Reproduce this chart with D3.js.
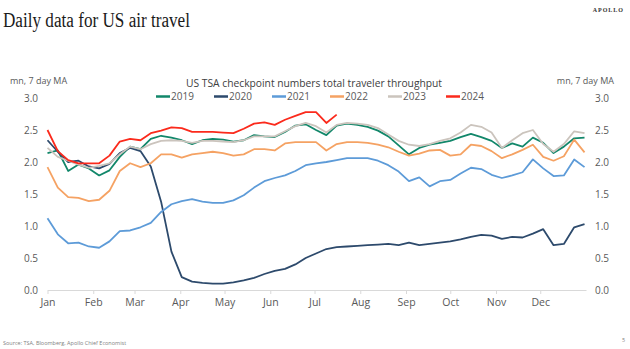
<!DOCTYPE html>
<html>
<head>
<meta charset="utf-8">
<script src="https://cdn.jsdelivr.net/npm/d3@7"></script>
<style>
  body { margin: 0; background: #fff; }
  text { font-family: "Open Sans", "Noto Sans", sans-serif; }
</style>
</head>
<body>
<div id="chart"></div>
<script>
// Day of year for every reading (one per week)
const days = d3.range(0, 365, 7);

// TSA throughput, mn travellers, 7 day MA
const tsa2019 = [2.14, 2.18, 1.86, 1.96, 1.90, 1.79, 1.87, 2.08, 2.24, 2.20, 2.36, 2.41, 2.38, 2.34,
  2.28, 2.34, 2.36, 2.35, 2.32, 2.34, 2.42, 2.40, 2.39, 2.47, 2.57, 2.59, 2.50, 2.42, 2.57, 2.60,
  2.58, 2.55, 2.49, 2.40, 2.26, 2.12, 2.22, 2.27, 2.30, 2.33, 2.39, 2.44, 2.39, 2.33, 2.22, 2.29,
  2.24, 2.38, 2.30, 2.14, 2.24, 2.37, 2.38];
const tsa2020 = [2.34, 2.16, 2.00, 2.02, 1.93, 1.90, 1.97, 2.14, 2.22, 2.17, 1.93, 1.38, 0.60, 0.20,
  0.13, 0.11, 0.10, 0.10, 0.12, 0.15, 0.19, 0.25, 0.30, 0.33, 0.40, 0.50, 0.57, 0.64, 0.67, 0.68,
  0.69, 0.70, 0.71, 0.72, 0.70, 0.74, 0.70, 0.72, 0.74, 0.76, 0.79, 0.83, 0.86, 0.85, 0.80, 0.83,
  0.82, 0.88, 0.95, 0.70, 0.72, 0.98, 1.03];
const tsa2021 = [1.12, 0.87, 0.73, 0.74, 0.68, 0.66, 0.76, 0.92, 0.93, 0.98, 1.05, 1.22, 1.34, 1.39,
  1.42, 1.38, 1.36, 1.36, 1.40, 1.48, 1.60, 1.70, 1.75, 1.79, 1.86, 1.95, 1.98, 2.00, 2.03, 2.06,
  2.06, 2.06, 2.02, 1.95, 1.85, 1.70, 1.76, 1.62, 1.70, 1.72, 1.82, 1.91, 1.89, 1.80, 1.75, 1.79,
  1.84, 2.04, 1.90, 1.78, 1.79, 2.04, 1.92];
const tsa2022 = [1.92, 1.60, 1.45, 1.44, 1.39, 1.41, 1.55, 1.86, 1.98, 1.92, 1.98, 2.12, 2.12, 2.07,
  2.12, 2.14, 2.16, 2.14, 2.10, 2.12, 2.20, 2.20, 2.18, 2.29, 2.31, 2.31, 2.31, 2.18, 2.28, 2.31,
  2.31, 2.30, 2.27, 2.23, 2.16, 2.10, 2.13, 2.18, 2.19, 2.10, 2.12, 2.27, 2.25, 2.17, 2.06, 2.12,
  2.19, 2.27, 2.08, 2.02, 2.09, 2.35, 2.15];
const tsa2023 = [2.22, 2.08, 2.02, 1.96, 1.91, 1.94, 1.98, 2.12, 2.24, 2.20, 2.28, 2.33, 2.34, 2.33,
  2.30, 2.33, 2.33, 2.32, 2.31, 2.34, 2.40, 2.40, 2.40, 2.48, 2.56, 2.61, 2.56, 2.46, 2.58, 2.61,
  2.60, 2.58, 2.53, 2.43, 2.33, 2.27, 2.25, 2.28, 2.33, 2.37, 2.46, 2.58, 2.55, 2.46, 2.22, 2.34,
  2.45, 2.50, 2.28, 2.16, 2.28, 2.48, 2.45];
const tsa2024 = [2.50, 2.17, 2.03, 1.98, 1.98, 1.98, 2.10, 2.32, 2.36, 2.34, 2.45, 2.49, 2.54, 2.53,
  2.47, 2.47, 2.47, 2.46, 2.45, 2.52, 2.60, 2.62, 2.58, 2.66, 2.72, 2.78, 2.78, 2.61, 2.74];

const years = ["2019", "2020", "2021", "2022", "2023", "2024"];
const seriesValues = [tsa2019, tsa2020, tsa2021, tsa2022, tsa2023, tsa2024];
const yearColors = ["#12876a", "#2d4a6c", "#5d9bd8", "#f5a263", "#cbc4bd", "#fb2a1c"];

// Month starts and labels for the x axis
const monthDays = [0, 31, 59, 90, 120, 151, 181, 212, 243, 273, 304, 334];
const monthLabels = ["Jan", "Feb", "Mar", "Apr", "May", "Jun", "Jul", "Aug", "Sep", "Oct", "Nov", "Dec"];
const yTicks = [0, 0.5, 1, 1.5, 2, 2.5, 3];

let width = 630, height = 349;
let svg = d3.select("#chart")
    .append("svg")
    .attr("width", width)
    .attr("height", height);

let x = d3.scaleLinear().domain([0, 365]).range([47.5, 586]);
let y = d3.scaleLinear().domain([0, 3]).range([290, 98]);

// Page title and branding
svg.append("text")
    .attr("x", 3).attr("y", 27)
    .style("font-family", "'Liberation Serif', serif")
    .style("font-size", "20px")
    .attr("textLength", 187)
    .attr("lengthAdjust", "spacingAndGlyphs")
    .attr("fill", "#1a1a1a")
    .text("Daily data for US air travel");
svg.append("text")
    .attr("x", 624).attr("y", 12)
    .attr("text-anchor", "end")
    .style("font-family", "'Liberation Serif', serif")
    .style("font-size", "6px")
    .style("letter-spacing", "1px")
    .style("font-weight", "bold")
    .attr("fill", "#333")
    .text("APOLLO");

// Chart title
svg.append("text")
    .attr("x", 314).attr("y", 87)
    .attr("text-anchor", "middle")
    .style("font-size", "11px")
    .attr("textLength", 256)
    .attr("lengthAdjust", "spacingAndGlyphs")
    .attr("fill", "#404040")
    .text("US TSA checkpoint numbers total traveler throughput");

// Unit labels
svg.append("text")
    .attr("x", 10).attr("y", 84)
    .style("font-size", "9px")
    .attr("fill", "#595959")
    .text("mn, 7 day MA");
svg.append("text")
    .attr("x", 614).attr("y", 84)
    .attr("text-anchor", "end")
    .style("font-size", "9px")
    .attr("fill", "#595959")
    .text("mn, 7 day MA");

// Legend
let legend = svg.append("g").selectAll("g")
    .data(years)
    .enter().append("g")
    .attr("transform", function(d, i) { return `translate(${156 + i * 58}, 96.5)`; });
legend.append("line")
    .attr("x1", 0).attr("x2", 14)
    .attr("stroke", function(d, i) { return yearColors[i]; })
    .attr("stroke-width", 2.5);
legend.append("text")
    .attr("x", 15).attr("y", 3.5)
    .style("font-size", "10px")
    .attr("fill", "#595959")
    .text(function(d) { return d; });

// Y axes, left and right
let fmt = d3.format(".1f");
let yLeft = svg.append("g")
    .attr("transform", "translate(38,0)")
    .call(d3.axisLeft(y).tickValues(yTicks).tickFormat(fmt).tickSize(0));
let yRight = svg.append("g")
    .attr("transform", "translate(595,0)")
    .call(d3.axisRight(y).tickValues(yTicks).tickFormat(fmt).tickSize(0));
[yLeft, yRight].forEach(function(g) {
    g.select(".domain").remove();
    g.selectAll("text")
        .attr("x", 0)
        .style("font-size", "10px")
        .style("font-family", "'Open Sans', sans-serif")
        .attr("fill", "#595959");
});

// X axis
let xAxis = svg.append("g")
    .attr("transform", `translate(0,${y(0)})`)
    .call(d3.axisBottom(x)
        .tickValues(monthDays)
        .tickFormat(function(d, i) { return monthLabels[i]; })
        .tickSize(4)
        .tickSizeOuter(0));
xAxis.select(".domain").attr("stroke", "#d9d9d9");
xAxis.selectAll(".tick line").attr("stroke", "#d9d9d9");
xAxis.selectAll("text")
    .attr("y", 9)
    .style("font-size", "10.5px")
    .style("font-family", "'Open Sans', sans-serif")
    .attr("fill", "#595959");

// Series lines
let line = d3.line()
    .x(function(d) { return x(d[0]); })
    .y(function(d) { return y(d[1]); });

seriesValues.forEach(function(values, i) {
    let pts = values.map(function(v, j) { return [days[j], v]; });
    svg.append("path")
        .datum(pts)
        .attr("fill", "none")
        .attr("stroke", yearColors[i])
        .attr("stroke-width", 1.8)
        .attr("stroke-linejoin", "round")
        .attr("d", line);
});

// Footer
svg.append("text")
    .attr("x", 3).attr("y", 345)
    .style("font-size", "5.5px")
    .attr("fill", "#7f7f7f")
    .text("Source: TSA, Bloomberg, Apollo Chief Economist");
svg.append("text")
    .attr("x", 622).attr("y", 342)
    .style("font-size", "5.5px")
    .attr("fill", "#7f7f7f")
    .text("5");
</script>
</body>
</html>
